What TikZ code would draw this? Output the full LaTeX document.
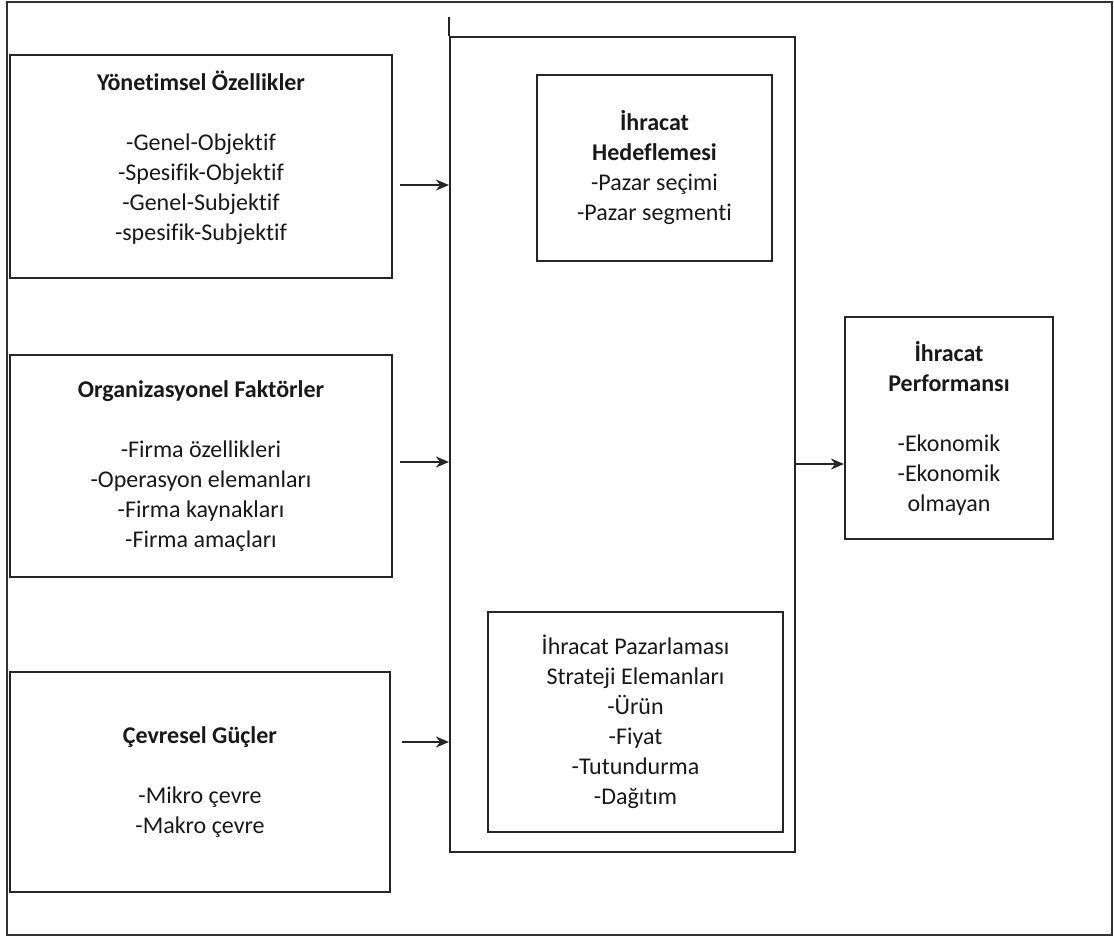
\documentclass[tikz,border=0pt]{standalone}
\usepackage{fontspec}
\setmainfont{Carlito}[Ligatures=NoCommon]
\usetikzlibrary{arrows.meta}
\begin{document}
\begin{tikzpicture}[x=1pt,y=-1pt,
  box/.style={draw=black!85, line width=2.1pt, rectangle, inner sep=0pt,
    align=center, font=\fontsize{24}{30}\selectfont, text=black!90},
  txt/.style={inner sep=0pt, align=center, font=\fontsize{24}{30}\selectfont, text=black!90},
  edge/.style={draw=black!85, line width=2.1pt},
  arr/.style={draw=black!85, line width=1.8pt, -{Stealth[length=13pt,width=11pt]}}]
\useasboundingbox (0,0) rectangle (1114,938);

% outer frame
\draw[line width=2.6pt, black!80] (7,2) rectangle (1112,935);

% three factor groups on the left
\node[box, minimum width=382pt, minimum height=223pt] (yon) at (201,166.5) {};
\node[txt, yshift=9pt] (yon-t) at (yon.center)
  {\textbf{Yönetimsel Özellikler}\\[30pt]-Genel-Objektif\\-Spesifik-Objektif\\-Genel-Subjektif\\-spesifik-Subjektif};
\node[box, minimum width=382pt, minimum height=222pt] (org) at (201,466)
  {\textbf{Organizasyonel Faktörler}\\[30pt]-Firma özellikleri\\-Operasyon elemanları\\-Firma kaynakları\\-Firma amaçları};
\node[box, minimum width=380pt, minimum height=220pt] (cev) at (200,782)
  {\textbf{Çevresel Güçler}\\[30pt]-Mikro çevre\\-Makro çevre};

% central strategy block
\node[box, minimum width=345pt, minimum height=815pt] (mid) at (622.5,444.5) {};
\draw[edge] ([yshift=19pt]mid.north west) -- (mid.north west);

\node[box, minimum width=235pt, minimum height=186pt] (hedef) at (654.5,168)
  {\textbf{İhracat}\\\textbf{Hedeflemesi}\\-Pazar seçimi\\-Pazar segmenti};
\node[box, minimum width=295pt, minimum height=220pt] (paz) at (635.5,722)
  {İhracat Pazarlaması\\Strateji Elemanları\\-Ürün\\-Fiyat\\-Tutundurma\\-Dağıtım};

% outcome
\node[box, minimum width=208pt, minimum height=222pt] (perf) at (949,428)
  {\textbf{İhracat}\\\textbf{Performansı}\\[30pt]-Ekonomik\\-Ekonomik\\olmayan};

% connectors
\coordinate (s1) at (400,185);
\coordinate (s2) at (400,462);
\coordinate (s3) at (402,742);
\coordinate (y4) at (0,464);
\draw[arr] (s1) -- (s1 -| mid.west);
\draw[arr] (s2) -- (s2 -| mid.west);
\draw[arr] (s3) -- (s3 -| mid.west);
\draw[arr] (mid.east |- y4) -- (perf.west |- y4);
\end{tikzpicture}
\end{document}
